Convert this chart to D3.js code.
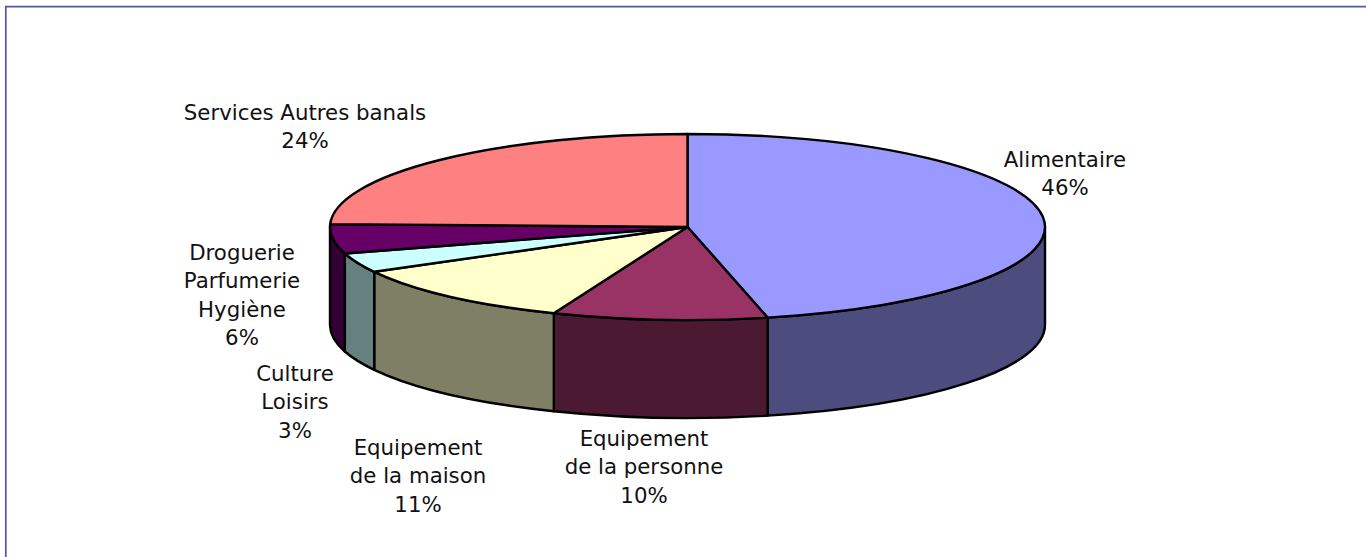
<!DOCTYPE html>
<html>
<head>
<meta charset="utf-8">
<title>Commerce</title>
<style>
	body { margin: 0; background: #fff; overflow: hidden; }
	svg { display: block; }
	.frame { fill: none; stroke: #5555a8; stroke-width: 1.7px; }
	.slice { stroke: #000; stroke-width: 2.4px; stroke-linejoin: round; }
	.label { font: 21.3px "DejaVu Sans", Verdana, sans-serif; fill: #111; text-anchor: middle; }
</style>
<script src="https://d3js.org/d3.v7.min.js"></script>
</head>
<body>
<svg width="1366" height="557"></svg>
<script>
var categories = ["Alimentaire", "Equipement de la personne", "Equipement de la maison", "Culture Loisirs", "Droguerie Parfumerie Hygiène", "Services Autres banals"];
var values = [46.4, 9.7, 10.9, 3.4, 5.1, 24.5];
var percentLabels = ["46%", "10%", "11%", "3%", "6%", "24%"];
var labelLines = [
	["Alimentaire"],
	["Equipement", "de la personne"],
	["Equipement", "de la maison"],
	["Culture", "Loisirs"],
	["Droguerie", "Parfumerie", "Hygiène"],
	["Services Autres banals"]
];
var topColors = ["#9999ff", "#993366", "#ffffcc", "#ccffff", "#660066", "#ff8080"];
var sideColors = ["#4c4c7f", "#4c1933", "#7f7f66", "#667f7f", "#330033", "#7f4040"];

// first line baseline of every label
var labelPos = [[1065, 167], [644, 446], [418, 455], [295, 381], [242, 260], [305, 120]];
var lineHeight = 28.3;
var depth = 98;

var svg = d3.select("svg");

svg.append("path")
	.attr("class", "frame")
	.attr("d", "M5.8,557V6.7H1366");

var x = d3.scaleLinear().domain([-1, 1]).range([330, 1045]);
var y = d3.scaleLinear().domain([-1, 1]).range([134, 320]);
var rx = (x(1) - x(-1)) / 2;
var ry = (y(1) - y(-1)) / 2;

var pie = d3.pie().sort(null).value(function(d) { return d; });
var arcs = pie(values);

function px(a) { return x(Math.sin(a)); }
function py(a) { return y(-Math.cos(a)); }

function ellipseArc(a0, a1, dy, sweep) {
	var large = Math.abs(a1 - a0) > Math.PI ? 1 : 0;
	return "A" + rx + "," + ry + " 0 " + large + " " + sweep + " " + px(a1) + "," + (py(a1) + dy);
}

// walls, only the front half of the rim can be seen
arcs.forEach(function(d, i) {
	var a0 = Math.max(d.startAngle, Math.PI / 2);
	var a1 = Math.min(d.endAngle, Math.PI * 1.5);
	if (a1 <= a0) return;
	svg.append("path")
		.attr("class", "slice")
		.attr("fill", sideColors[i])
		.attr("d", "M" + px(a0) + "," + py(a0) + ellipseArc(a0, a1, 0, 1) +
			"L" + px(a1) + "," + (py(a1) + depth) + ellipseArc(a1, a0, depth, 0) + "Z");
});

// top face
arcs.forEach(function(d, i) {
	svg.append("path")
		.attr("class", "slice")
		.attr("fill", topColors[i])
		.attr("d", "M" + x(0) + "," + y(0) + "L" + px(d.startAngle) + "," + py(d.startAngle) +
			ellipseArc(d.startAngle, d.endAngle, 0, 1) + "Z");
});

labelLines.forEach(function(lines, i) {
	var t = svg.append("text")
		.attr("class", "label")
		.attr("aria-label", categories[i]);
	lines.concat([percentLabels[i]]).forEach(function(s, j) {
		t.append("tspan")
			.attr("x", labelPos[i][0])
			.attr("y", labelPos[i][1] + j * lineHeight)
			.text(s);
	});
});
</script>
</body>
</html>
